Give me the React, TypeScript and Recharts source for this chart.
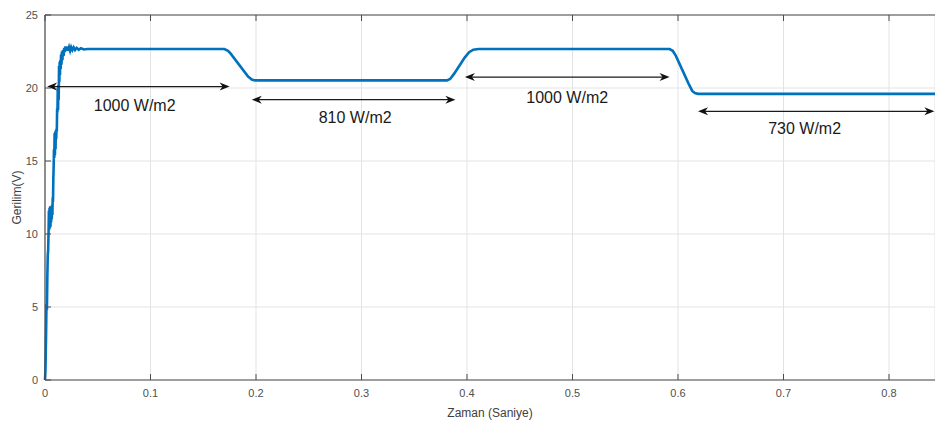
import { LineChart, Line, XAxis, YAxis, CartesianGrid, ReferenceLine, ReferenceDot } from "recharts";

// simulation output (time in s, voltage in V)
const time = [
  0, 0.0004, 0.0008, 0.0011, 0.0014, 0.0018, 0.0022, 0.0026,
  0.003, 0.0034, 0.0037, 0.004, 0.0043, 0.0046, 0.0049, 0.0052,
  0.0055, 0.0058, 0.0061, 0.0064, 0.0067, 0.007, 0.0073, 0.0076,
  0.0079, 0.0082, 0.0085, 0.0088, 0.0091, 0.0094, 0.0097, 0.01,
  0.0103, 0.0106, 0.0109, 0.0112, 0.0115, 0.0118, 0.0121, 0.0124,
  0.0127, 0.013, 0.0133, 0.0136, 0.0139, 0.0142, 0.0145, 0.0148,
  0.0152, 0.0156, 0.016, 0.0165, 0.017, 0.0176, 0.0182, 0.0188,
  0.0194, 0.0202, 0.021, 0.0218, 0.0228, 0.0238, 0.0248, 0.026,
  0.0272, 0.0285, 0.03, 0.032, 0.034, 0.037, 0.04, 0.17,
  0.1735, 0.176, 0.1925, 0.196, 0.199, 0.381, 0.384, 0.388,
  0.398, 0.402, 0.406, 0.411, 0.592, 0.595, 0.598, 0.61,
  0.6135, 0.616, 0.619, 0.8436,
];
const voltage = [
  0, 0.6, 2.2, 3.5, 5.2, 4.8, 7.0, 8.5,
  8.9, 10.2, 11.6, 10.3, 11.8, 10.4, 11.9, 10.5,
  11.8, 10.8, 11.9, 11.0, 12.0, 11.3, 12.5, 12.2,
  13.8, 14.6, 15.8, 15.2, 16.9, 15.4, 17.0, 15.8,
  17.1, 16.5, 17.2, 17.0, 18.6, 18.3, 20.0, 18.5,
  20.2, 19.2, 21.5, 20.4, 21.8, 20.9, 21.9, 21.3,
  22.3, 21.6, 22.5, 21.9, 22.6, 22.2, 22.75, 22.45,
  22.85, 22.55, 22.85, 22.55, 22.8, 22.55, 22.8, 22.6,
  22.78, 22.6, 22.75, 22.62, 22.72, 22.64, 22.67, 22.67,
  22.55, 22.35, 20.78, 20.58, 20.52, 20.52, 20.62, 21.0,
  22.1, 22.45, 22.62, 22.67, 22.67, 22.55, 22.2, 20.3,
  19.8, 19.65, 19.6, 19.6,
];

const xTicks = [0, 0.1, 0.2, 0.3, 0.4, 0.5, 0.6, 0.7, 0.8];
const yTicks = [0, 5, 10, 15, 20, 25];

// irradiance annotations (double arrows + text)
const arrowStart = [0.002, 0.196, 0.398, 0.619];
const arrowEnd = [0.175, 0.389, 0.592, 0.843];
const arrowLevel = [20.1, 19.2, 20.75, 18.4];
const labelText = ["1000 W/m2", "810 W/m2", "1000 W/m2", "730 W/m2"];
const labelTime = [0.085, 0.294, 0.495, 0.72];
const labelLevel = [18.8, 18.0, 19.4, 17.25];

const data = time.map((t, i) => ({ t, v: voltage[i] }));

const FONT = "Arial, 'Liberation Sans', Helvetica, sans-serif";
const AXIS = "#4d4d4d";
const TICK_TEXT = "#505050";

function BottomTick({ x, y, payload }: any) {
  return (
    <g>
      <line x1={x} x2={x} y1={y} y2={y - 6} stroke={AXIS} strokeWidth={1} />
      <text x={x} y={y + 13} dy="0.36em" textAnchor="middle" fontSize={11} fontFamily={FONT} fill={TICK_TEXT}>
        {payload.value}
      </text>
    </g>
  );
}

function TopTick({ x, y }: any) {
  return <line x1={x} x2={x} y1={y} y2={y + 6} stroke={AXIS} strokeWidth={1} />;
}

function LeftTick({ x, y, payload }: any) {
  return (
    <g>
      <line x1={x} x2={x + 6} y1={y} y2={y} stroke={AXIS} strokeWidth={1} />
      <text x={x - 7} y={y} dy="0.36em" textAnchor="end" fontSize={11} fontFamily={FONT} fill={TICK_TEXT}>
        {payload.value}
      </text>
    </g>
  );
}

function DoubleArrow({ x1, y1, x2, y2 }: any) {
  const len = 10;
  const half = 4;
  const notch = 7;
  return (
    <g>
      <line x1={x1 + 4} y1={y1} x2={x2 - 4} y2={y2} stroke="#1a1a1a" strokeWidth={1.2} />
      <polygon
        points={`${x1},${y1} ${x1 + len},${y1 - half} ${x1 + notch},${y1} ${x1 + len},${y1 + half}`}
        fill="#111"
      />
      <polygon
        points={`${x2},${y2} ${x2 - len},${y2 - half} ${x2 - notch},${y2} ${x2 - len},${y2 + half}`}
        fill="#111"
      />
    </g>
  );
}

function YLabel({ viewBox }: any) {
  const cx = viewBox.x + 17;
  const cy = viewBox.y + viewBox.height / 2;
  return (
    <text
      x={cx}
      y={cy}
      transform={`rotate(-90 ${cx} ${cy})`}
      textAnchor="middle"
      dy="0.36em"
      fontSize={12}
      fontFamily={FONT}
      fill="#404040"
    >
      Gerilim(V)
    </text>
  );
}

export default function App() {
  return (
    <div style={{ position: "absolute", left: 0, top: 0, width: 935, height: 421, background: "#fff" }}>
      <LineChart width={935} height={421} data={data} margin={{ top: 0, right: 0, left: 0, bottom: 0 }}>
        <CartesianGrid stroke="#e3e3e3" strokeWidth={1} />
        <XAxis
          dataKey="t"
          type="number"
          domain={[0, 0.8436]}
          ticks={xTicks}
          interval={0}
          height={41}
          tickSize={0}
          tickMargin={0}
          tickLine={false}
          tick={<BottomTick />}
          axisLine={{ stroke: AXIS, strokeWidth: 1.2 }}
          label={{ value: "Zaman (Saniye)", position: "insideBottom", offset: 4, fontSize: 12, fontFamily: FONT, fill: "#404040" }}
        />
        <XAxis
          xAxisId="top"
          orientation="top"
          dataKey="t"
          type="number"
          domain={[0, 0.8436]}
          ticks={xTicks}
          interval={0}
          height={15}
          tickSize={0}
          tickMargin={0}
          tickLine={false}
          tick={<TopTick />}
          axisLine={{ stroke: AXIS, strokeWidth: 1.2 }}
        />
        <YAxis
          type="number"
          domain={[0, 25]}
          ticks={yTicks}
          interval={0}
          width={45}
          tickSize={0}
          tickMargin={0}
          tickLine={false}
          tick={<LeftTick />}
          axisLine={{ stroke: AXIS, strokeWidth: 1.2 }}
          label={<YLabel />}
        />
        <Line
          type="linear"
          dataKey="v"
          stroke="#0072BD"
          strokeWidth={2.6}
          dot={false}
          activeDot={false}
          isAnimationActive={false}
        />
        {arrowStart.map((s, i) => (
          <ReferenceLine
            key={`arrow-${i}`}
            segment={[
              { x: s, y: arrowLevel[i] },
              { x: arrowEnd[i], y: arrowLevel[i] },
            ]}
            ifOverflow="visible"
            shape={(p: any) => <DoubleArrow {...p} />}
          />
        ))}
        {labelText.map((txt, i) => (
          <ReferenceDot
            key={`label-${i}`}
            x={labelTime[i]}
            y={labelLevel[i]}
            ifOverflow="visible"
            shape={(p: any) => (
              <text
                x={p.cx}
                y={p.cy}
                dy="0.36em"
                textAnchor="middle"
                fontSize={16}
                fontFamily={FONT}
                fill="#1a1a1a"
              >
                {txt}
              </text>
            )}
          />
        ))}
      </LineChart>
    </div>
  );
}
